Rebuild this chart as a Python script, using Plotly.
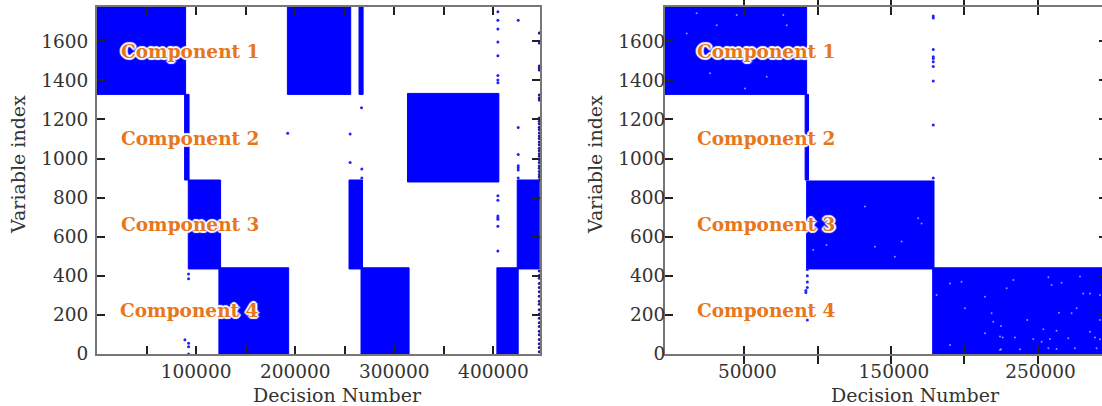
import plotly.graph_objects as go

# Blocks: x0, x1, y0, y1 (decision number, variable index)
left_blocks = [
    (0, 89400, 1328, 1775), (88400, 92900, 890, 1328), (92100, 124700, 435, 890),
    (123000, 193400, 0, 441), (192100, 256000, 1328, 1775), (264400, 268500, 1328, 1775),
    (254300, 267900, 435, 890), (266400, 314900, 0, 441), (313300, 405500, 880, 1333),
    (403500, 425000, 0, 441), (424000, 446200, 435, 890),
]
right_blocks = [
    (-4100, 92500, 1328, 1775), (91500, 93800, 890, 1328),
    (92500, 179400, 435, 885), (178500, 294000, 0, 441),
]

left_out_x = [404500]*8 + [425000, 266900, 255400, 255400, 267200, 267200, 425000, 425000, 425000, 425000, 425000, 425000]
left_out_x += [404500]*7 + [92400, 92400, 88700, 92400, 92400, 92400, 192400]
left_out_y = [1751, 1707, 1662, 1596, 1526, 1425, 1401, 1388, 1707, 1260, 1125, 979, 946, 900, 1159, 1021, 963, 953, 941, 900]
left_out_y += [810, 786, 706, 697, 689, 653, 527, 409, 385, 73, 55, 37, 0, 1129]

edge_y = [1642, 1591, 1473, 1463, 1453, 1325, 1309, 1299, 1207, 1190, 1178, 1160, 1148, 1131, 1115, 1102,
          1084, 1070, 1052, 1040, 1024, 1011, 995, 980, 962, 950, 933, 918, 905, 890,
          425, 402, 388, 361, 340, 318, 296, 270, 255, 226, 204, 183, 160, 141, 116, 98, 74, 52, 33, 12]
edge_x = [446300] * len(edge_y)

right_out_x = [178900]*10 + [93000, 93000, 93000, 93000, 92000, 92000, 93000]
right_out_y = [1729, 1719, 1557, 1521, 1512, 1495, 1471, 1396, 1171, 900, 432, 400, 368, 340, 325, 314, 174]

speck_x = [289200, 292600, 290300, 263000, 264600, 243000, 229000, 285800, 281200, 259600, 266400, 276700,
           292600, 225100, 258500, 271000, 263000, 254000, 234600, 285800, 226200, 252800, 257400, 275500,
           292600, 279000, 233500, 257400, 273300, 247100, 225100, 238000,
           219800, 214200, 224400, 224400, 190300, 181200, 214200, 198200, 200500, 218700, 190300,
           17500, 31200, 10700, 78900, 44800, 65300, 26600, 50500, 76600,
           132300, 152700, 106100, 97000, 168600, 139100, 157300, 170900]
speck_y = [84, 75, 29, 26, 211, 174, 336, 310, 310, 353, 365, 234,
           174, 143, 77, 80, 119, 126, 84, 114, 84, 63, 29, 29,
           302, 396, 378, 392, 208, 77, 24, 24,
           165, 106, 89, 20, 361, 302, 293, 370, 234, 208, 46,
           1743, 1682, 1640, 1682, 1734, 1418, 1436, 1358, 1734,
           754, 498, 558, 532, 694, 549, 575, 668]

labels = ["Component 1", "Component 2", "Component 3", "Component 4"]
label_y = [1545, 1100, 660, 220]
y_ticks = [0, 200, 400, 600, 800, 1000, 1200, 1400, 1600]
left_x_ticks = [50000, 100000, 150000, 200000, 250000, 300000, 350000, 400000]
left_x_text = ["", "100000", "", "200000", "", "300000", "", "400000"]
right_x_ticks = [50000, 100000, 150000, 200000, 250000]
right_x_text = ["50000", "", "150000", "", "250000"]

BLUE = "#0000ff"
TICK = dict(family="DejaVu Serif", size=18.5, color="#333333")
TITLE = dict(family="DejaVu Serif", size=19, color="#333333")
W, H = 1102, 406


def block_trace(blocks, xa, ya):
    xs, ys = [], []
    for x0, x1, y0, y1 in blocks:
        xs += [x0, x1, x1, x0, x0, None]
        ys += [y0, y0, y1, y1, y0, None]
    return go.Scatter(x=xs, y=ys, xaxis=xa, yaxis=ya, mode="lines", fill="toself", fillcolor=BLUE,
                      line=dict(color=BLUE, width=1), hoverinfo="skip", showlegend=False)


def dots(x, y, xa, ya, color="#2222ff", size=3):
    return go.Scatter(x=x, y=y, xaxis=xa, yaxis=ya, mode="markers", showlegend=False,
                      marker=dict(color=color, size=size, line=dict(width=0)))


fig = go.Figure()
fig.add_trace(block_trace(left_blocks, "x", "y"))
fig.add_trace(dots(left_out_x, left_out_y, "x", "y"))
fig.add_trace(dots(edge_x, edge_y, "x", "y", "#1a1a9c", 3))
fig.add_trace(block_trace(right_blocks, "x2", "y2"))
fig.add_trace(dots(right_out_x, right_out_y, "x2", "y2"))
fig.add_trace(dots(speck_x, speck_y, "x2", "y2", "rgba(190,190,255,0.75)", 2))
fig.add_trace(go.Scatter(x=[None], y=[None], xaxis="x2", yaxis="y3", showlegend=False))

AX = dict(showgrid=False, zeroline=False, showline=True, linecolor="#777777", linewidth=2, mirror="allticks",
          ticks="inside", ticklen=8, tickwidth=1.5, tickcolor="#222222", tickfont=TICK, automargin=False,
          tickmode="array")

DOM_Y = [1 - 354 / H, 1 - 7 / H]
fig.update_layout(
    width=W, height=H, margin=dict(l=0, r=0, t=0, b=0), paper_bgcolor="white", plot_bgcolor="white",
    showlegend=False,
    xaxis=dict(AX, domain=[97 / W, 540 / W], range=[0, 447000], tickvals=left_x_ticks, ticktext=left_x_text,
               anchor="y"),
    yaxis=dict(AX, domain=DOM_Y, range=[0, 1775], tickvals=y_ticks, ticktext=[str(v) for v in y_ticks],
               ticklabelstandoff=3, anchor="x"),
    xaxis2=dict(AX, domain=[665 / W, 1], range=[-4100, 294000], tickvals=right_x_ticks, ticktext=right_x_text,
                ticklabelshift=3, anchor="y2"),
    yaxis2=dict(AX, domain=DOM_Y, range=[0, 1775], tickvals=y_ticks, ticktext=[str(v) for v in y_ticks],
                mirror=False, ticklabelstandoff=-6, anchor="x2"),
    yaxis3=dict(domain=DOM_Y, range=[0, 1775], overlaying="y2", side="right", anchor="x2", showgrid=False,
                zeroline=False, showline=False, ticks="inside", ticklen=3, tickwidth=1.5, tickcolor="#222222",
                tickmode="array", tickvals=y_ticks, showticklabels=False),
)
halo = ",".join(f"{a}px {b}px 1px #ffffff" for a, b in
                [(-2, 0), (2, 0), (0, -2), (0, 2), (-1, -1), (1, 1), (-1, 1), (1, -1)])
for xref, yref, lx in (("x", "y", 93400), ("x2", "y2", 64800)):
    for t, ly in zip(labels, label_y):
        fig.add_annotation(x=lx, y=ly, xref=xref, yref=yref, text=f"<b>{t}</b>", showarrow=False,
                           font=dict(family="DejaVu Serif", size=18.5, color="#e8761a", shadow=halo))
for px in (337.5, 915.5):
    fig.add_annotation(x=px / W, y=1 - 395 / H, xref="paper", yref="paper", text="Decision Number",
                       xanchor="center", yanchor="middle", showarrow=False, font=TITLE)
for px in (18, 595):
    fig.add_annotation(x=px / W, y=1 - 165 / H, xref="paper", yref="paper", text="Variable index",
                       xanchor="center", yanchor="middle", textangle=-90, showarrow=False, font=TITLE)

fig.write_html("out.html", config=dict(displayModeBar=False),
               post_script="document.body.style.margin='0';document.documentElement.style.overflow='hidden';")
